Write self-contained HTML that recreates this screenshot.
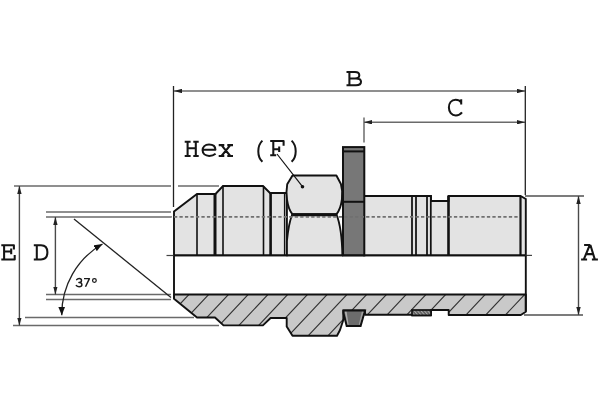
<!DOCTYPE html>
<html><head><meta charset="utf-8">
<style>
html,body{margin:0;padding:0;background:#fff;}
svg{display:block;}
</style></head>
<body>
<svg width="600" height="400" viewBox="0 0 600 400">
<defs>
<marker id="arr" viewBox="0 0 10 10" refX="10" refY="5" markerWidth="8" markerHeight="4.4" markerUnits="userSpaceOnUse" orient="auto-start-reverse" preserveAspectRatio="none">
<path d="M0,0 L10,5 L0,10 z" fill="#222"/>
</marker>
<marker id="arr2" viewBox="0 0 10 10" refX="10" refY="5" markerWidth="8.5" markerHeight="6.8" markerUnits="userSpaceOnUse" orient="auto-start-reverse" preserveAspectRatio="none">
<path d="M0,0 L10,5 L0,10 z" fill="#111"/>
</marker>
<pattern id="gk" patternUnits="userSpaceOnUse" width="2.6" height="2.6" patternTransform="rotate(-40)">
<rect width="2.6" height="2.6" fill="#5a5a5a"/><rect width="1.1" height="2.6" fill="#a8a8a8"/>
</pattern>
<clipPath id="hc"><path d="M174,294.5 L525.8,294.5 L525.8,311.7 L520.8,315 L448.7,315 L448.7,310 L431,310 L431,315.3 L412,315.3 L412,314.8 L365,314.8 L365,310.5 L343.3,310.5 L343.3,320 L340,330 L337,335.7 L292.5,335.7 L286.7,326.4 L286.7,318 L270.6,318 L262.9,325.4 L223.5,325.4 L215,317.5 L197,317.5 L174,298.8 Z"/></clipPath>
</defs>

<!-- dimension lines -->
<g stroke="#6a6a6a" stroke-width="1.5" fill="none">
  <line x1="174" y1="91" x2="525" y2="91" marker-start="url(#arr)" marker-end="url(#arr)"/>
  <line x1="364" y1="122.2" x2="525" y2="122.2" marker-start="url(#arr)" marker-end="url(#arr)"/>
  <line x1="14" y1="186" x2="171" y2="186"/>
  <line x1="178" y1="186" x2="219" y2="186"/>
  <line x1="13" y1="325.6" x2="219" y2="325.6"/>
  <line x1="19.4" y1="186" x2="19.4" y2="325.6" stroke="#4a4a4a" stroke-width="1.4" marker-start="url(#arr)" marker-end="url(#arr)"/>
  <line x1="25" y1="317.6" x2="194" y2="317.6"/>
  <line x1="46" y1="212" x2="171" y2="212"/>
  <line x1="46" y1="217" x2="171" y2="217"/>
  <line x1="46" y1="294.5" x2="171" y2="294.5"/>
  <line x1="46" y1="299.4" x2="171" y2="299.4"/>
  <line x1="55.4" y1="217" x2="55.4" y2="294.5" stroke="#4a4a4a" stroke-width="1.4" marker-start="url(#arr)" marker-end="url(#arr)"/>
  <line x1="525" y1="196" x2="584" y2="196" stroke="#505050" stroke-width="1.3"/>
  <line x1="524" y1="315" x2="583" y2="315" stroke="#505050" stroke-width="1.3"/>
  <line x1="578.5" y1="196" x2="578.5" y2="315" stroke="#4a4a4a" stroke-width="1.4" marker-start="url(#arr)" marker-end="url(#arr)"/>
</g>
<g stroke="#222" stroke-width="1.3" fill="none">
  <line x1="173.5" y1="86" x2="173.5" y2="207"/>
  <line x1="525.3" y1="86" x2="525.3" y2="195"/>
  <line x1="364" y1="117.5" x2="364" y2="142.5" stroke="#555"/>
  <line x1="74" y1="219" x2="171" y2="297.5"/>
  <path d="M102.5,244 A81,81 0 0 0 61.8,315.3" marker-start="url(#arr2)" marker-end="url(#arr2)"/>
</g>

<!-- light body sections -->
<g stroke="#111" stroke-width="1.9" stroke-linejoin="miter" fill="#e3e3e3">
  <path d="M174,255.4 L174,211.5 L197,194 L215.5,194 L223,186 L263,186 L270,193 L286.9,193 L286.9,255.4 Z"/>
  <path d="M364,255.4 L364,196 L431,196 L431,201 L448.5,201 L448.5,196 L520.5,196 L525.8,199 L525.8,255.4 Z"/>
</g>
<g stroke="#111" fill="none">
  <line x1="197" y1="194" x2="197" y2="255.4" stroke-width="1.6"/>
  <line x1="215" y1="194" x2="215" y2="255.4" stroke-width="3"/>
  <line x1="223" y1="186" x2="223" y2="255.4" stroke-width="1.6"/>
  <line x1="263.5" y1="186" x2="263.5" y2="255.4" stroke-width="1.6"/>
  <line x1="270.6" y1="193" x2="270.6" y2="255.4" stroke-width="2.6"/>
  <line x1="284.6" y1="193" x2="284.6" y2="255.4" stroke-width="1.4"/>
  <line x1="412" y1="196" x2="412" y2="255.4" stroke-width="1.75"/>
  <line x1="416" y1="196" x2="416" y2="255.4" stroke-width="1.75"/>
  <line x1="427" y1="196" x2="427" y2="255.4" stroke-width="1.75"/>
  <line x1="430.8" y1="196" x2="430.8" y2="255.4" stroke-width="1.75"/>
  <line x1="448.5" y1="196" x2="448.5" y2="255.4" stroke-width="2.6"/>
  <line x1="520.5" y1="196" x2="520.5" y2="255.4" stroke-width="2.2"/>
</g>
<!-- hex -->
<g stroke="#111" stroke-width="1.9" fill="#e3e3e3" stroke-linejoin="round">
  <path d="M292.5,175.5 L336.4,175.5 L340.9,184 C343.3,192 342.8,206 336.4,214.4 L292.5,214.4 C286.6,207 285.6,193 287.2,184.3 Z"/>
  <path d="M292.2,214.5 L336.5,214.5 C339.5,222 342,235 342.4,255.4 L286.9,255.4 L286.9,241 C288,230 290,220 292.2,214.5 Z"/>
</g>
<line x1="292.5" y1="214.7" x2="336.4" y2="214.7" stroke="#111" stroke-width="3"/>
<!-- washer -->
<g stroke="#111" stroke-width="2" fill="#777">
  <rect x="343" y="147.1" width="21.3" height="108.3"/>
  <line x1="343" y1="151.4" x2="364.3" y2="151.4"/>
  <line x1="343" y1="201.8" x2="364.3" y2="201.8"/>
</g>
<!-- dashed centre -->
<line x1="171" y1="216.9" x2="520" y2="216.9" stroke="#707070" stroke-width="1.9" stroke-dasharray="3.3 2.19" stroke-dashoffset="-2.95"/>
<line x1="174" y1="255.4" x2="525.8" y2="255.4" stroke="#111" stroke-width="1.9"/>
<line x1="525" y1="255.4" x2="532" y2="255.4" stroke="#444" stroke-width="1.2"/>
<line x1="166.5" y1="255.5" x2="174" y2="255.5" stroke="#444" stroke-width="1.2"/>

<!-- hatched section -->
<path d="M174,294.5 L525.8,294.5 L525.8,311.7 L520.8,315 L448.7,315 L448.7,310 L431,310 L431,315.3 L412,315.3 L412,314.8 L365,314.8 L365,310.5 L343.3,310.5 L343.3,320 L340,330 L337,335.7 L292.5,335.7 L286.7,326.4 L286.7,318 L270.6,318 L262.9,325.4 L223.5,325.4 L215,317.5 L197,317.5 L174,298.8 Z" fill="#c9c9c9"/>
<path clip-path="url(#hc)" d="M133.9,290L87.0,340M153.7,290L106.7,340M173.4,290L126.5,340M193.2,290L146.2,340M212.9,290L166.0,340M232.7,290L185.7,340M252.4,290L205.5,340M272.2,290L225.2,340M291.9,290L245.0,340M311.7,290L264.7,340M331.4,290L284.5,340M351.2,290L304.2,340M370.9,290L324.0,340M390.7,290L343.7,340M410.4,290L363.5,340M430.2,290L383.2,340M449.9,290L403.0,340M469.7,290L422.7,340M489.4,290L442.5,340M509.2,290L462.2,340M528.9,290L482.0,340M548.7,290L501.7,340M568.4,290L521.5,340" stroke="#333" stroke-width="1.15" fill="none"/>
<path d="M174,294.5 L525.8,294.5 L525.8,311.7 L520.8,315 L448.7,315 L448.7,310 L431,310 L431,315.3 L412,315.3 L412,314.8 L365,314.8 L365,310.5 L343.3,310.5 L343.3,320 L340,330 L337,335.7 L292.5,335.7 L286.7,326.4 L286.7,318 L270.6,318 L262.9,325.4 L223.5,325.4 L215,317.5 L197,317.5 L174,298.8 Z" fill="none" stroke="#111" stroke-width="1.9" stroke-linejoin="round"/>
<line x1="174" y1="255.4" x2="174" y2="298.8" stroke="#111" stroke-width="1.9"/>
<line x1="525.8" y1="255.4" x2="525.8" y2="311.7" stroke="#111" stroke-width="1.9"/>
<!-- o-ring groove -->
<path d="M343.4,310.5 L365,310.5 L360.6,326 L346.7,326 L343.4,313 Z" fill="#6c6c6c" stroke="#111" stroke-width="2"/>
<path d="M344.8,311.8 L346.6,311.8 L348.6,324.8 L347.6,324.8 Z" fill="#b0b0b0"/>
<path d="M361.8,311.8 L363.6,311.8 L359.7,324.8 L358.8,324.8 Z" fill="#a0a0a0"/>
<!-- gasket -->
<rect x="412" y="310" width="19" height="5.4" fill="url(#gk)" stroke="#111" stroke-width="1.7"/>
<!-- leader -->
<line x1="277" y1="154" x2="302.5" y2="186.7" stroke="#111" stroke-width="1.2"/>
<circle cx="302.5" cy="186.7" r="1.8" fill="#111"/>

<!-- text -->
<g fill="none" stroke="#151515" stroke-width="2.05" stroke-linecap="butt" stroke-linejoin="round">
<path d="M346.5,71.9 H355 C357.8,71.9 359.3,73.4 359.3,75.2 C359.3,77 357.8,78.4 355,78.4 H349.4 M349.4,71.9 V85.2 M346.5,85.2 H356 C359.4,85.2 361,83.6 361,81.7 C361,79.8 359.3,78.4 356,78.4"/>
<path d="M461.2,99.2 V104.4 M461.2,102.3 C459.8,100.4 457.8,99.8 455.6,99.8 C451.2,99.8 448.9,103.4 448.9,107.6 C448.9,112 451.6,115.4 455.8,115.4 C458.6,115.4 460.5,114.2 462,112.3"/>
<path d="M1.3,245.2 H13.9 V249.6 M4.1,245.2 V259.4 M4.1,251.4 H11.2 M11.2,248.5 V254.3 M1.3,259.4 H14.7 V255"/>
<path d="M33.8,245.2 H41 C45.5,245.2 47.4,248.5 47.4,252.3 C47.4,256.3 45.5,259.4 41,259.4 H33.8 M36.8,245.2 V259.4"/>
<path d="M584.1,245 H590.4 M589.8,245 L583.8,259.4 M590.4,245 L594.8,259.4 M586,254.1 H593.2 M581.1,259.4 H587.1 M591.9,259.4 H597.9"/>
<path d="M184.7,141.7 H190.6 M193.3,141.7 H198.7 M187.6,141.7 V156 M195.8,141.7 V156 M187.6,148.3 H195.8 M184.7,156 H190.6 M193.3,156 H198.7"/>
<path d="M202.6,149.8 H215.4 C215.4,146.5 212.8,144.5 209,144.5 C205,144.5 202.6,147 202.6,150.3 C202.6,153.6 205.2,155.9 209.2,155.9 C211.8,155.9 213.8,155.2 215.6,153.8"/>
<path d="M218.7,145.1 H224.3 M227.3,145.1 H233 M218.7,156 H224.3 M227.3,156 H233 M221.5,145.1 L230.3,156 M230.3,145.1 L221.5,156"/>
<path d="M262.4,140.6 C259.4,143.5 258.3,147.5 258.3,151.2 C258.3,155 259.4,159 262.4,161.8" stroke-width="2"/>
<path d="M270.2,141 H283.6 V145.8 M273.3,141 V155.3 M273.3,149.2 H279.2 M279.2,146.4 V152 M270.2,155.3 H276.2"/>
<path d="M291.6,140.6 C294.6,143.5 295.7,147.5 295.7,151.2 C295.7,155 294.6,159 291.6,161.8" stroke-width="2"/>
</g>
<g fill="none" stroke="#1a1a1a" stroke-width="1.45" stroke-linecap="round" stroke-linejoin="round">
<path d="M76.7,279.7 C77.3,278.7 78.2,278.4 79.1,278.4 C80.6,278.4 81.5,279.3 81.5,280.5 C81.5,281.8 80.4,282.5 78.9,282.5 C80.7,282.5 81.9,283.3 81.9,284.7 C81.9,286.1 80.7,286.7 79.1,286.7 C78,286.7 77,286.3 76.3,285.5"/>
<path d="M84,278.6 H89.4 L85.5,286.8" stroke-linecap="butt"/>
<circle cx="94.4" cy="280.4" r="1.85" stroke-width="1.25"/>
</g>
</svg>
</body></html>
